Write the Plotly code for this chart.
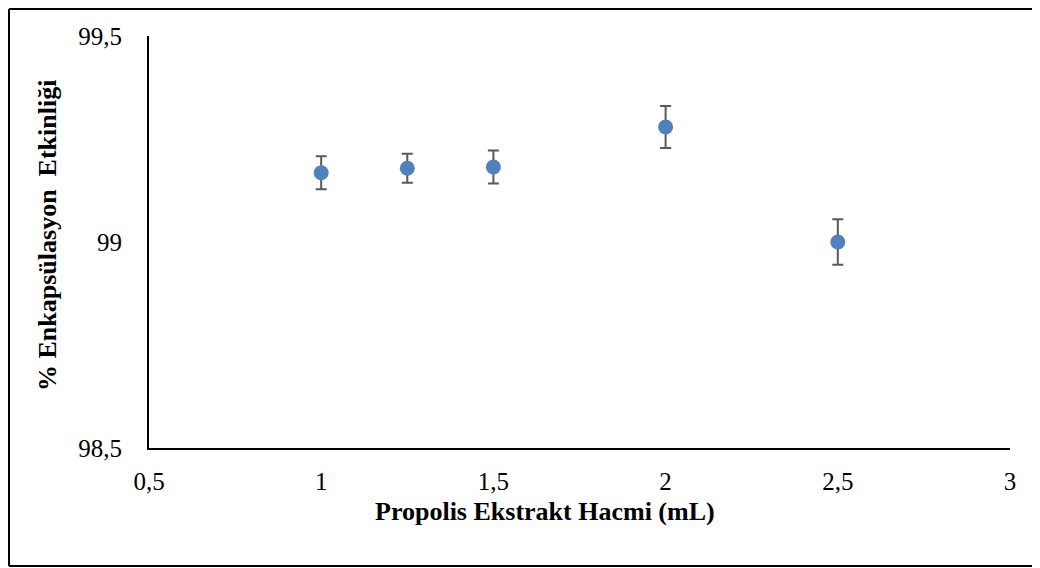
import plotly.graph_objects as go

volume_ml = [1.0, 1.25, 1.5, 2.0, 2.5]
efficiency = [99.168, 99.179, 99.182, 99.279, 99.0]
error = [0.040, 0.035, 0.040, 0.051, 0.055]

x_ticks = [0.5, 1, 1.5, 2, 2.5, 3]
x_ticktext = ["0,5", "1", "1,5", "2", "2,5", "3"]
y_ticks = [98.5, 99, 99.5]
y_ticktext = ["98,5", "99", "99,5"]

FONT = "Liberation Serif, Times New Roman, serif"

fig = go.Figure()
fig.add_trace(go.Scatter(
    x=volume_ml, y=efficiency, mode="markers",
    marker=dict(color="#4F81BD", size=15, line=dict(width=0)),
    error_y=dict(type="data", array=error, visible=True,
                 color="#595959", thickness=2, width=5.5),
    showlegend=False,
))

# page body has an 8px offset; layout is given in window pixels minus 8
OFF = 8
W, H = 1024, 568
L, T = 149 - OFF, 36 - OFF
pw, ph = 861, 412
R, B = W - L - pw, H - T - ph

def px_x(px):
    return (px - OFF - L) / pw

def px_y(py):
    return (T + ph - (py - OFF)) / ph

frame = dict(type="line", xref="paper", yref="paper",
             line=dict(color="black", width=2))
x_left, x_right, y_top, y_bot = px_x(9), px_x(1080), px_y(9), px_y(566)

fig.update_layout(
    width=W, height=H,
    margin=dict(l=L, r=R, t=T, b=B),
    plot_bgcolor="white", paper_bgcolor="white",
    font=dict(family=FONT, color="black", size=25),
    xaxis=dict(range=[0.5, 3], tickvals=x_ticks, ticktext=x_ticktext,
               showgrid=False, zeroline=False, showline=True,
               linecolor="black", linewidth=2, ticks="",
               ticklabelstandoff=10, tickfont=dict(size=25)),
    yaxis=dict(range=[98.5, 99.5], tickvals=y_ticks, ticktext=y_ticktext,
               showgrid=False, zeroline=False, showline=True,
               linecolor="black", linewidth=2, ticks="",
               ticklabelstandoff=20, tickfont=dict(size=25)),
    shapes=[
        dict(frame, x0=x_left, x1=x_left, y0=y_bot, y1=y_top),
        dict(frame, x0=x_left, x1=x_right, y0=y_top, y1=y_top),
        dict(frame, x0=x_left, x1=x_right, y0=y_bot, y1=y_bot),
    ],
    annotations=[
        dict(text="<b>Propolis Ekstrakt Hacmi (mL)</b>", xref="paper", yref="paper",
             x=px_x(545), y=px_y(511), xanchor="center", yanchor="middle",
             showarrow=False, font=dict(size=26, family=FONT)),
        dict(text="<b>% Enkapsülasyon  Etkinliği</b>", xref="paper", yref="paper",
             x=px_x(47), y=px_y(236), xanchor="center", yanchor="middle",
             textangle=-90, showarrow=False, font=dict(size=26, family=FONT)),
    ],
)

fig.write_html("out.html")
